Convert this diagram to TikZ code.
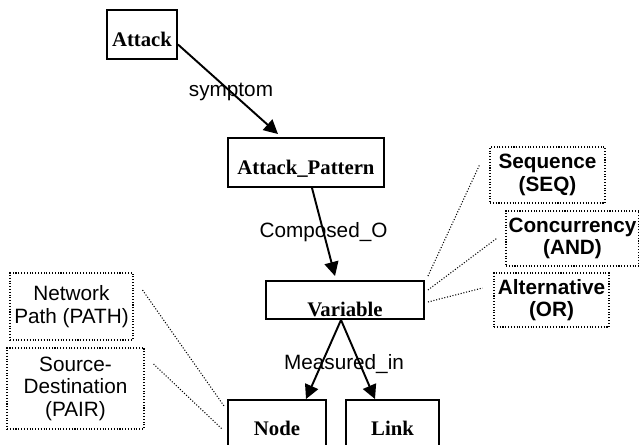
\documentclass[tikz,border=0pt]{standalone}
\usepackage{fontspec}
\setmainfont{Liberation Serif}
\setsansfont{Liberation Sans}
\usetikzlibrary{arrows.meta}

\begin{document}
\begin{tikzpicture}[x=0.02cm, y=-0.02cm, >={Triangle[length=8pt,width=8pt]},
  box/.style={draw, line width=1.1pt, inner sep=0pt, font=\fontsize{11.8}{12.8}\selectfont\bfseries},
  note/.style={draw, densely dotted, line width=0.6pt, align=center, inner sep=0pt, font=\fontsize{11.8}{12.8}\selectfont\sffamily},
  boldnote/.style={note, font=\fontsize{11.8}{12.8}\selectfont\sffamily\bfseries},
  lbl/.style={font=\fontsize{11.8}{12.8}\selectfont\sffamily, inner sep=0pt},
  link/.style={->, line width=1.1pt},
  hint/.style={densely dotted, line width=0.6pt}]

\useasboundingbox (0,0) rectangle (639,445);
\clip (0,0) rectangle (639,445);

% main chain
\node[box, minimum width=1.4cm, minimum height=0.98cm, text height=0.5cm, text depth=0pt] (atk) at (142,34.5) {Attack};
\node[box, minimum width=3.12cm, minimum height=0.98cm, text height=0.5cm, text depth=0pt] (pat) at (306,162.5) {Attack\_Pattern};
\node[box, minimum width=3.16cm, minimum height=0.76cm, text height=0.68cm, text depth=0pt] (var) at (345,300) {Variable};
\node[box, minimum width=1.96cm, minimum height=1.16cm, text height=0.28cm, text depth=0pt] (nd) at (277,429) {Node};
\node[box, minimum width=1.86cm, minimum height=1.16cm, text height=0.28cm, text depth=0pt] (lnk) at (392.5,429) {Link};

% dotted notes
\node[boldnote, minimum width=2.3cm, minimum height=1.12cm] (seq) at (547.5,175) {Sequence\\(SEQ)};
\node[boldnote, minimum width=2.66cm, minimum height=1.1cm] (conc) at (572.5,238.5) {Concurrency\\(AND)};
\node[boldnote, minimum width=2.3cm, minimum height=1.08cm] (alt) at (551.5,300) {Alternative\\(OR)};
\node[note, minimum width=2.46cm, minimum height=1.34cm] (pth) at (71.5,306.5) {Network\\Path (PATH)};
\node[note, minimum width=2.74cm, minimum height=1.62cm] (pair) at (75.5,388.5) {Source-\\Destination\\(PAIR)};

\draw[link] ([yshift=-0.2cm]atk.east) -- node[lbl, pos=0.53] (sym) {symptom} ([xshift=-0.56cm,yshift=0.06cm]pat.north);
\draw[link] ([xshift=0.12cm]pat.south) -- node[lbl, pos=0.5] (cmp) {Composed\_O} ([xshift=-0.2cm,yshift=0.08cm]var.north);
\draw[link] ([xshift=-0.08cm]var.south) -- ([xshift=0.58cm]nd.north);
\draw[link] ([xshift=-0.08cm]var.south) -- ([xshift=-0.35cm]lnk.north);
\node[lbl] (msr) at (344,364) {Measured\_in};

\draw[hint] ([xshift=0.06cm,yshift=0.08cm]var.north east) -- ([xshift=-0.2cm,yshift=0.2cm]seq.west);
\draw[hint] ([xshift=0.06cm,yshift=0.2cm]var.east) -- ([xshift=-0.18cm]conc.west);
\draw[hint] ([xshift=0.06cm,yshift=-0.04cm]var.east) -- ([xshift=-0.22cm,yshift=0.24cm]alt.west);
\draw[hint] ([xshift=0.18cm,yshift=0.33cm]pth.east) -- ([xshift=-0.06cm,yshift=-0.14cm]nd.north west);
\draw[hint] ([xshift=0.18cm,yshift=0.49cm]pair.east) -- ([xshift=-0.1cm]nd.west);

\end{tikzpicture}
\end{document}
